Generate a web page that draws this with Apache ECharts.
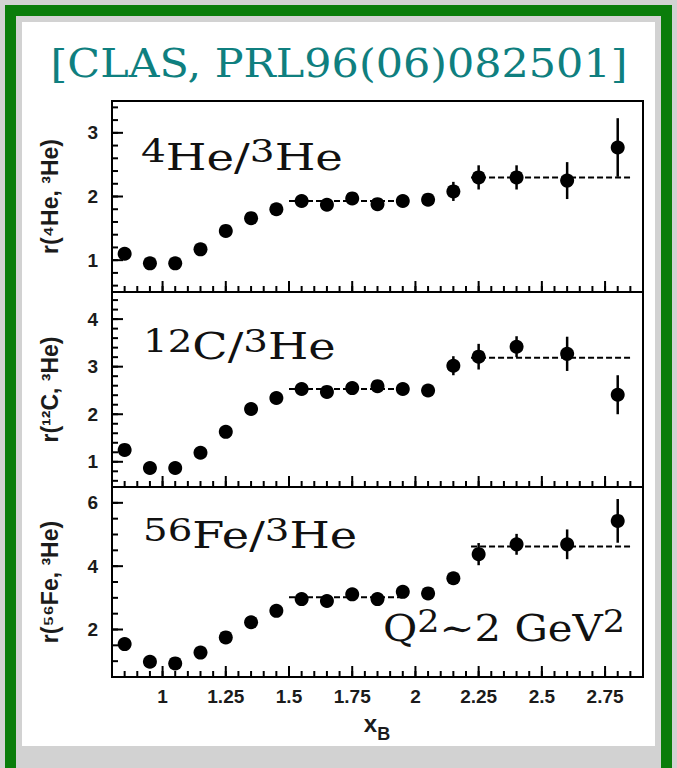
<!DOCTYPE html>
<html>
<head>
<meta charset="utf-8" />
<title>CLAS r(A, 3He) vs xB</title>
<style>
  html, body { margin: 0; padding: 0; background: #d2d2d2; overflow: hidden; }
  .green { position: absolute; left: 5px; top: 5px; width: 645px; height: 760px; border: 11px solid #0a7d0a; background: #d2d2d2; }
  .paper { position: absolute; left: 22px; top: 22px; width: 633px; height: 724px; background: #ffffff; }
  #chart { position: absolute; left: 0; top: 0; width: 677px; height: 768px; }
</style>
</head>
<body>
<div class="green"></div>
<div class="paper"></div>
<div id="chart"></div>
<script src="https://cdn.jsdelivr.net/npm/echarts@6/dist/echarts.min.js"></script>
<script>
// x_B bins
var xB = [0.85, 0.95, 1.05, 1.15, 1.25, 1.35, 1.45, 1.55, 1.65, 1.75, 1.85, 1.95, 2.05, 2.15, 2.25, 2.4, 2.6, 2.8];

// r(4He, 3He)
var rHe4   = [1.10, 0.95, 0.95, 1.17, 1.46, 1.66, 1.80, 1.93, 1.87, 1.97, 1.88, 1.93, 1.95, 2.08, 2.30, 2.30, 2.25, 2.77];
var errHe4 = [0.03, 0.02, 0.02, 0.02, 0.02, 0.02, 0.02, 0.02, 0.02, 0.03, 0.03, 0.03, 0.04, 0.15, 0.19, 0.19, 0.29, 0.46];
// r(12C, 3He)
var rC12   = [1.25, 0.87, 0.87, 1.19, 1.63, 2.11, 2.34, 2.53, 2.47, 2.55, 2.59, 2.53, 2.50, 3.02, 3.21, 3.42, 3.27, 2.41];
var errC12 = [0.04, 0.03, 0.03, 0.03, 0.03, 0.03, 0.03, 0.03, 0.04, 0.04, 0.04, 0.05, 0.06, 0.20, 0.27, 0.22, 0.36, 0.41];
// r(56Fe, 3He)
var rFe56   = [1.54, 0.98, 0.93, 1.27, 1.75, 2.23, 2.59, 2.96, 2.90, 3.11, 2.96, 3.19, 3.14, 3.62, 4.38, 4.69, 4.69, 5.43];
var errFe56 = [0.05, 0.04, 0.04, 0.04, 0.04, 0.05, 0.05, 0.05, 0.05, 0.06, 0.06, 0.07, 0.08, 0.12, 0.35, 0.33, 0.47, 0.69];

// scaling plateaus (dashed lines)
var plateauRange = [[1.5, 1.95], [2.22, 2.86]];
var plateauHe4  = [1.93, 2.30];
var plateauC12  = [2.53, 3.19];
var plateauFe56 = [3.02, 4.62];

// ticks
var xTicks = [1, 1.25, 1.5, 1.75, 2, 2.25, 2.5, 2.75];
var yTicksHe4 = [1, 2, 3];
var yTicksC12 = [1, 2, 3, 4];
var yTicksFe56 = [2, 4, 6];

var XMIN = 0.8, XMAX = 2.9;
var SANS = 'Liberation Sans';
var SERIF = 'DejaVu Serif';
var INK = '#1b1b1b';

function steps(from, to, step) {
  var out = [];
  for (var v = from; v <= to + 1e-9; v += step) out.push(Math.round(v * 1000) / 1000);
  return out;
}

var panels = [
  { top: 101, height: 191, min: 0.5,  max: 3.5,  ticks: yTicksHe4,  minor: steps(0.6, 3.4, 0.2), r: rHe4,  err: errHe4,  plateau: plateauHe4,  name: 'r(\u2074He, \u00b3He)' },
  { top: 292, height: 195, min: 0.47, max: 4.57, ticks: yTicksC12,  minor: steps(0.6, 4.4, 0.2), r: rC12,  err: errC12,  plateau: plateauC12,  name: 'r(\u00b9\u00b2C, \u00b3He)' },
  { top: 487, height: 190, min: 0.5,  max: 6.5,  ticks: yTicksFe56, minor: steps(1, 6.5, 0.5),  r: rFe56, err: errFe56, plateau: plateauFe56, name: 'r(\u2075\u2076Fe, \u00b3He)' }
];
var xMinor = steps(0.85, 2.85, 0.05);

var grids = [], xAxes = [], yAxes = [], series = [], texts = [];

function errBar(params, api) {
  var x = api.value(0), y = api.value(1), e = api.value(2);
  var a = api.coord([x, y + e]), b = api.coord([x, y - e]);
  return { type: 'line', shape: { x1: a[0], y1: a[1], x2: b[0], y2: b[1] }, style: { stroke: '#000', lineWidth: 2.5 } };
}

// inward tick marks; rows are [x, y, 0 = bottom axis / 1 = left axis]
function tickRender(len) {
  return function (params, api) {
    var a = api.coord([api.value(0), api.value(1)]);
    var left = api.value(2) === 1;
    return { type: 'line', shape: { x1: a[0], y1: a[1], x2: left ? a[0] + len : a[0], y2: left ? a[1] : a[1] - len },
      style: { stroke: '#000', lineWidth: 2 } };
  };
}

panels.forEach(function (p, i) {
  var last = i === panels.length - 1;
  grids.push({ left: 112, width: 531, top: p.top, height: p.height, show: true, borderColor: '#000', borderWidth: 2, backgroundColor: 'transparent' });

  xAxes.push({
    type: 'value', gridIndex: i, position: 'bottom', min: XMIN, max: XMAX,
    axisLine: { show: false, onZero: false }, splitLine: { show: false }, axisTick: { show: false },
    axisLabel: { show: last, customValues: xTicks, margin: 10, color: INK, fontFamily: SANS, fontWeight: 'bold', fontSize: 19 }
  });
  yAxes.push({
    type: 'value', gridIndex: i, position: 'left', min: p.min, max: p.max,
    axisLine: { show: false, onZero: false }, splitLine: { show: false }, axisTick: { show: false },
    axisLabel: { customValues: p.ticks, margin: 14, color: INK, fontFamily: SANS, fontWeight: 'bold', fontSize: 19 }
  });

  var majorRows = xTicks.map(function (v) { return [v, p.min, 0]; })
    .concat(p.ticks.map(function (v) { return [XMIN, v, 1]; }));
  var minorRows = xMinor.map(function (v) { return [v, p.min, 0]; })
    .concat(p.minor.map(function (v) { return [XMIN, v, 1]; }));
  series.push({ type: 'custom', xAxisIndex: i, yAxisIndex: i, renderItem: tickRender(11), z: 5, silent: true, encode: { x: 0, y: 1 }, data: majorRows });
  series.push({ type: 'custom', xAxisIndex: i, yAxisIndex: i, renderItem: tickRender(6), z: 5, silent: true, encode: { x: 0, y: 1 }, data: minorRows });

  p.plateau.forEach(function (v, k) {
    series.push({
      type: 'line', xAxisIndex: i, yAxisIndex: i, symbol: 'none', silent: true, z: 1,
      lineStyle: { color: '#000', width: 2, type: [6, 3] },
      data: [[plateauRange[k][0], v], [plateauRange[k][1], v]]
    });
  });
  series.push({
    type: 'custom', xAxisIndex: i, yAxisIndex: i, renderItem: errBar, z: 2,
    encode: { x: 0, y: 1 },
    data: xB.map(function (x, j) { return [x, p.r[j], p.err[j]]; })
  });
  series.push({
    type: 'scatter', xAxisIndex: i, yAxisIndex: i, symbolSize: 14, z: 3,
    itemStyle: { color: '#000', opacity: 1 },
    data: xB.map(function (x, j) { return [x, p.r[j]]; })
  });

  // y axis title, rotated
  texts.push({ type: 'text', x: 50, y: p.top + p.height / 2, rotation: Math.PI / 2, z: 10,
    style: { text: p.name, fontFamily: SANS, fontWeight: 'bold', fontSize: 23, fill: INK, align: 'center', verticalAlign: 'middle' } });
});

var supRich = {
  m: { font: '37px "DejaVu Serif"', fill: '#111', lineHeight: 40, verticalAlign: 'bottom' },
  s: { font: '31px "DejaVu Serif"', fill: '#111', lineHeight: 31, verticalAlign: 'top' }
};

function label(x, y, text, sx) {
  return { type: 'text', x: x, y: y, scaleX: sx, z: 10,
    style: { text: text, align: 'left', verticalAlign: 'middle', rich: supRich } };
}

texts.push(
  { type: 'text', x: 339, y: 64, scaleX: 1.1, z: 10,
    style: { text: '[CLAS, PRL96(06)082501]', fontFamily: SERIF, fontSize: 39, fill: '#0f7f7f', align: 'center', verticalAlign: 'middle' } },
  label(141, 156, '{s|4}{m|He/}{s|3}{m|He}', 1.26),
  label(143, 345, '{s|12}{m|C/}{s|3}{m|He}', 1.25),
  label(143, 534, '{s|56}{m|Fe/}{s|3}{m|He}', 1.25),
  label(383, 626, '{m|Q}{s|2}{m|\u223c2 GeV}{s|2}', 1.13),
  { type: 'text', x: 377, y: 727, z: 10,
    style: { text: '{x|x}{b|B}', align: 'center', verticalAlign: 'middle', rich: {
      x: { font: 'bold 24px "Liberation Sans"', fill: INK, lineHeight: 32, verticalAlign: 'top' },
      b: { font: 'bold 18px "Liberation Sans"', fill: INK, lineHeight: 18, verticalAlign: 'bottom' }
    } } }
);

var chart = echarts.init(document.getElementById('chart'), null, { renderer: 'svg' });
chart.setOption({
  animation: false,
  grid: grids,
  xAxis: xAxes,
  yAxis: yAxes,
  series: series,
  graphic: texts
});
</script>
</body>
</html>
